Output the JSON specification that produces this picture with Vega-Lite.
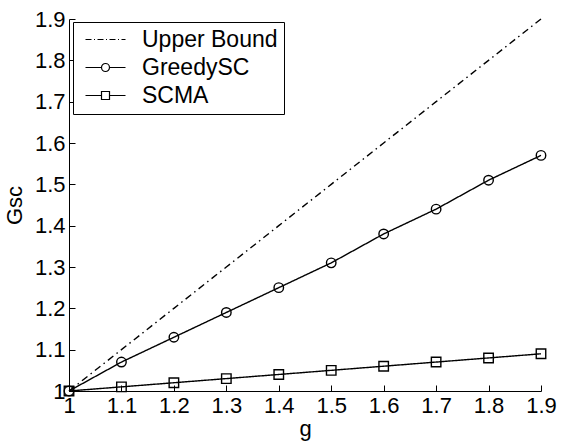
{
  "$schema": "https://vega.github.io/schema/vega-lite/v6.json",
  "width": 472,
  "height": 372,
  "autosize": "none",
  "padding": {"left": 69, "top": 19, "right": 24, "bottom": 50},
  "background": "white",
  "config": {
    "view": {"stroke": null},
    "font": "Liberation Sans",
    "axis": {
      "grid": false,
      "domainColor": "black",
      "domainWidth": 1,
      "tickColor": "black",
      "tickSize": -6,
      "labelColor": "black",
      "labelFont": "Liberation Sans",
      "labelFontSize": 22,
      "titleFont": "Liberation Sans",
      "titleFontSize": 22,
      "titleFontWeight": "normal",
      "titleColor": "black",
      "labelFlush": false,
      "labelOverlap": false
    },
    "legend": {
      "labelFont": "Liberation Sans",
      "labelFontSize": 23,
      "labelColor": "black"
    }
  },
  "data": {
    "values": [
      {"g": 1.0, "gsc": 1.0, "series": "Upper Bound"},
      {"g": 1.1, "gsc": 1.1, "series": "Upper Bound"},
      {"g": 1.2, "gsc": 1.2, "series": "Upper Bound"},
      {"g": 1.3, "gsc": 1.3, "series": "Upper Bound"},
      {"g": 1.4, "gsc": 1.4, "series": "Upper Bound"},
      {"g": 1.5, "gsc": 1.5, "series": "Upper Bound"},
      {"g": 1.6, "gsc": 1.6, "series": "Upper Bound"},
      {"g": 1.7, "gsc": 1.7, "series": "Upper Bound"},
      {"g": 1.8, "gsc": 1.8, "series": "Upper Bound"},
      {"g": 1.9, "gsc": 1.9, "series": "Upper Bound"},
      {"g": 1.0, "gsc": 1.0, "series": "GreedySC"},
      {"g": 1.1, "gsc": 1.07, "series": "GreedySC"},
      {"g": 1.2, "gsc": 1.13, "series": "GreedySC"},
      {"g": 1.3, "gsc": 1.19, "series": "GreedySC"},
      {"g": 1.4, "gsc": 1.25, "series": "GreedySC"},
      {"g": 1.5, "gsc": 1.31, "series": "GreedySC"},
      {"g": 1.6, "gsc": 1.38, "series": "GreedySC"},
      {"g": 1.7, "gsc": 1.44, "series": "GreedySC"},
      {"g": 1.8, "gsc": 1.51, "series": "GreedySC"},
      {"g": 1.9, "gsc": 1.57, "series": "GreedySC"},
      {"g": 1.0, "gsc": 1.0, "series": "SCMA"},
      {"g": 1.1, "gsc": 1.01, "series": "SCMA"},
      {"g": 1.2, "gsc": 1.02, "series": "SCMA"},
      {"g": 1.3, "gsc": 1.03, "series": "SCMA"},
      {"g": 1.4, "gsc": 1.04, "series": "SCMA"},
      {"g": 1.5, "gsc": 1.05, "series": "SCMA"},
      {"g": 1.6, "gsc": 1.06, "series": "SCMA"},
      {"g": 1.7, "gsc": 1.07, "series": "SCMA"},
      {"g": 1.8, "gsc": 1.08, "series": "SCMA"},
      {"g": 1.9, "gsc": 1.09, "series": "SCMA"}
    ]
  },
  "encoding": {
    "x": {
      "field": "g",
      "type": "quantitative",
      "scale": {"domain": [1, 1.9], "nice": false, "zero": false},
      "axis": {
        "title": "g",
        "values": [1, 1.1, 1.2, 1.3, 1.4, 1.5, 1.6, 1.7, 1.8, 1.9],
        "labelExpr": "datum.value == 1 ? '1' : format(datum.value, '.1f')",
        "labelPadding": 10,
        "titlePadding": 2
      }
    },
    "y": {
      "field": "gsc",
      "type": "quantitative",
      "scale": {"domain": [1, 1.9], "nice": false, "zero": false},
      "axis": {
        "title": "Gsc",
        "values": [1, 1.1, 1.2, 1.3, 1.4, 1.5, 1.6, 1.7, 1.8, 1.9],
        "labelExpr": "datum.value == 1 ? '1' : format(datum.value, '.1f')",
        "labelPadding": 10,
        "titlePadding": 8
      }
    }
  },
  "layer": [
    {
      "mark": {"type": "line", "color": "black", "strokeWidth": 1.4},
      "encoding": {
        "strokeDash": {
          "field": "series",
          "type": "nominal",
          "scale": {"domain": ["Upper Bound", "GreedySC", "SCMA"], "range": [[7, 4, 1.5, 4], [1, 0], [1, 0]]},
          "legend": null
        }
      }
    },
    {
      "transform": [{"filter": "datum.series != 'Upper Bound'"}],
      "mark": {"type": "point", "filled": false, "color": "black", "strokeWidth": 1.4, "size": 90, "opacity": 1},
      "encoding": {
        "shape": {
          "field": "series",
          "type": "nominal",
          "scale": {"domain": ["GreedySC", "SCMA"], "range": ["circle", "square"]},
          "legend": null
        }
      }
    },
    {
      "transform": [{"filter": "datum.g == 1"}],
      "mark": {"type": "point", "filled": false, "color": "black", "opacity": 0},
      "encoding": {
        "shape": {
          "field": "series",
          "type": "nominal",
          "scale": {
            "domain": ["Upper Bound", "GreedySC", "SCMA"],
            "range": [
              "M-0.5,0H0.1M0.35,0H0.45M0.7,0H1.3M1.55,0H1.65M1.9,0H2.5M2.75,0H2.85M3.1,0H3.5",
              "M-0.5,0H1.1M1.9,0H3.5M1.9,0A0.4,0.4 0 1,1 1.1,0A0.4,0.4 0 1,1 1.9,0",
              "M-0.5,0H1.1M1.9,0H3.5M1.1,-0.4H1.9V0.4H1.1Z"
            ]
          },
          "legend": {
            "title": null,
            "orient": "none",
            "legendX": 4,
            "legendY": 3,
            "symbolSize": 400,
            "symbolStrokeWidth": 1.2,
            "symbolStrokeColor": "black",
            "symbolFillColor": "transparent",
            "symbolOpacity": 1,
            "labelOffset": 40,
            "rowPadding": 4,
            "padding": 6,
            "strokeColor": "black",
            "fillColor": "white",
            "cornerRadius": 0,
            "encode": {
              "symbols": {"update": {"opacity": {"value": 1}, "stroke": {"value": "black"}, "fill": {"value": "transparent"}}}
            }
          }
        }
      }
    }
  ],
  "resolve": {"scale": {"shape": "independent"}, "legend": {"shape": "independent"}}
}
